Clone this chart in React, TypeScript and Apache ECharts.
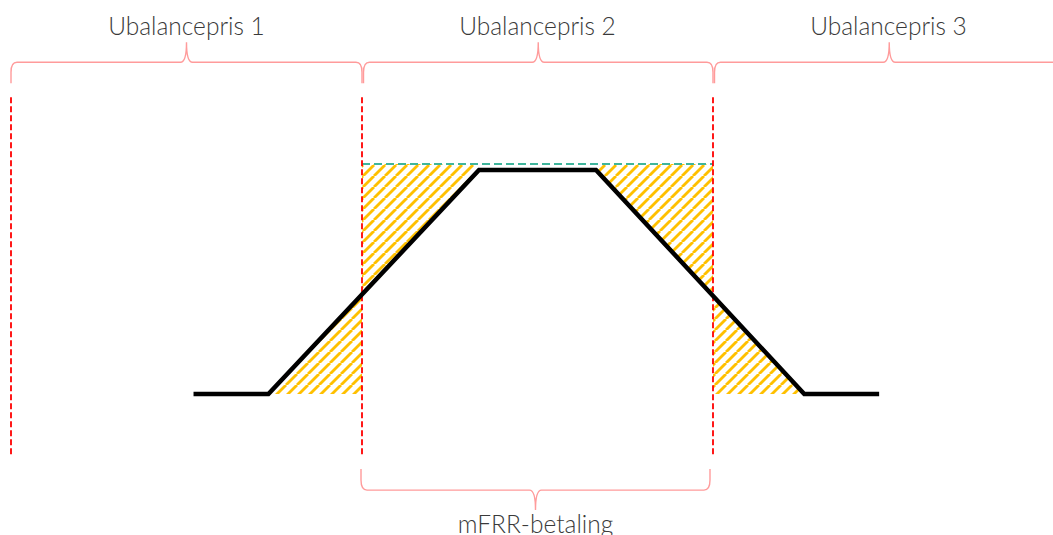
import { useEffect, useRef } from 'react';
import * as echarts from 'echarts';

// Activated power profile (time in minutes, power in % of ordered volume)
const timeMin = [7.8, 11, 20, 25, 33.9, 37.1];
const powerPct = [0, 0, 100, 100, 0, 0];

// Imbalance-price periods (quarter hours)
const priceStart = [0, 15, 30];
const priceEnd = [15, 30, 45];
const priceLabels = ['Ubalancepris 1', 'Ubalancepris 2', 'Ubalancepris 3'];
const priceBoundaries = [0, 15, 30];

// mFRR payment window and ordered level
const paymentStart = 15;
const paymentEnd = 30;
const paymentLabel = 'mFRR-betaling';
const orderedLevel = 102.7;

// Hatched deviation regions
const hatchFrom = [11, 15, 25, 30];
const hatchTo = [15, 20, 30, 33.9];
const hatchRef = [0, 102.7, 102.7, 0];

function lineAt(t: number): number {
  for (let i = 0; i < timeMin.length - 1; i++) {
    if (t >= timeMin[i] && t <= timeMin[i + 1]) {
      const f = (t - timeMin[i]) / (timeMin[i + 1] - timeMin[i]);
      return powerPct[i] + f * (powerPct[i + 1] - powerPct[i]);
    }
  }
  return 0;
}

function bracePath(x1: number, x2: number, y: number, dir: number): string {
  const end = 21, peak = 20, rx = 6, ry = 10, cusp = 6;
  const xm = (x1 + x2) / 2;
  return [
    `M ${x1} ${y - dir * end}`,
    `L ${x1} ${y - dir * ry}`,
    `Q ${x1} ${y} ${x1 + rx} ${y}`,
    `L ${xm - cusp} ${y}`,
    `Q ${xm} ${y} ${xm} ${y + dir * peak}`,
    `Q ${xm} ${y} ${xm + cusp} ${y}`,
    `L ${x2 - rx} ${y}`,
    `Q ${x2} ${y} ${x2} ${y - dir * ry}`,
    `L ${x2} ${y - dir * end}`,
  ].join(' ');
}

const BRACE_COLOR = '#ff9b9b';
const TEXT_COLOR = '#3a3a3a';
const FONT = 'Lato';

export default function App() {
  const ref = useRef<HTMLDivElement>(null);

  useEffect(() => {
    document.body.style.margin = '0';
    if (!ref.current) return;
    const chart = echarts.init(ref.current, undefined, { renderer: 'svg' });

    const P = 11;
    const cv = document.createElement('canvas');
    cv.width = P;
    cv.height = P;
    const ctx = cv.getContext('2d')!;
    ctx.strokeStyle = '#ffc000';
    ctx.lineWidth = 2.8;
    for (const k of [-1, 0, 1]) {
      ctx.beginPath();
      ctx.moveTo(k * P, P);
      ctx.lineTo(k * P + P, 0);
      ctx.stroke();
    }
    const pattern = { image: cv, repeat: 'repeat' };

    const braceTopLevel = 148.1;
    const braceBottomLevel = -42.9;

    const textStyle = {
      align: 'center',
      verticalAlign: 'middle',
      fill: TEXT_COLOR,
      fontSize: 24.5,
      fontFamily: FONT,
      fontWeight: 300,
    };

    chart.setOption({
      animation: false,
      grid: { left: 11, top: 170, right: 0, height: 224 },
      xAxis: { type: 'value', min: 0, max: 44.53, show: false },
      yAxis: { type: 'value', min: 0, max: 100, show: false },
      series: [
        {
          type: 'custom',
          z: 1,
          data: hatchFrom.map((f, i) => [f, hatchTo[i], hatchRef[i]]),
          renderItem: (params: any, api: any) => {
            const a = api.value(0), b = api.value(1), r = api.value(2);
            const pts: number[][] = [[a, r], [a, lineAt(a)]];
            timeMin.forEach((t, j) => {
              if (t > a && t < b) pts.push([t, powerPct[j]]);
            });
            pts.push([b, lineAt(b)], [b, r]);
            return {
              type: 'polygon',
              shape: { points: pts.map((p) => api.coord(p)) },
              style: { fill: pattern, stroke: 'none' },
            };
          },
        },
        {
          type: 'line',
          z: 2,
          data: [[paymentStart, orderedLevel], [paymentEnd, orderedLevel]],
          symbol: 'none',
          clip: false,
          lineStyle: { color: '#3fb59c', width: 2, type: [8, 4] },
        },
        {
          type: 'custom',
          z: 3,
          data: priceBoundaries.map((t) => [t]),
          renderItem: (params: any, api: any) => {
            const t = api.value(0);
            const p1 = api.coord([t, 132.5]);
            const p2 = api.coord([t, -27]);
            return {
              type: 'line',
              shape: { x1: p1[0], y1: p1[1], x2: p2[0], y2: p2[1] },
              style: { stroke: '#ff0000', lineWidth: 1.8, lineDash: [6, 3] },
            };
          },
        },
        {
          type: 'custom',
          z: 4,
          data: priceStart.map((s, i) => [s, priceEnd[i], i]),
          renderItem: (params: any, api: any) => {
            const s = api.value(0), e = api.value(1), i = api.value(2);
            const p1 = api.coord([s, braceTopLevel]);
            const p2 = api.coord([e, braceTopLevel]);
            const off = i === 0 ? 0 : 1.5;
            const xm = (p1[0] + p2[0]) / 2;
            return {
              type: 'group',
              children: [
                {
                  type: 'path',
                  shape: { pathData: bracePath(p1[0] + off, p2[0], p1[1], -1) },
                  style: { fill: 'none', stroke: BRACE_COLOR, lineWidth: 1.4 },
                },
                {
                  type: 'text',
                  style: { ...textStyle, text: priceLabels[i], x: xm, y: p1[1] - 37 },
                },
              ],
            };
          },
        },
        {
          type: 'custom',
          z: 4,
          data: [[paymentStart, paymentEnd]],
          renderItem: (params: any, api: any) => {
            const p1 = api.coord([api.value(0), braceBottomLevel]);
            const p2 = api.coord([api.value(1), braceBottomLevel]);
            const xm = (p1[0] + p2[0]) / 2;
            return {
              type: 'group',
              children: [
                {
                  type: 'path',
                  shape: { pathData: bracePath(p1[0] - 1, p2[0] - 3, p1[1], 1) },
                  style: { fill: 'none', stroke: BRACE_COLOR, lineWidth: 1.4 },
                },
                {
                  type: 'text',
                  style: { ...textStyle, text: paymentLabel, x: xm - 2, y: p1[1] + 33 },
                },
              ],
            };
          },
        },
        {
          type: 'line',
          z: 5,
          data: timeMin.map((t, i) => [t, powerPct[i]]),
          symbol: 'none',
          clip: false,
          lineStyle: { color: '#000000', width: 4.5, cap: 'butt', join: 'miter' },
        },
      ],
    });

    return () => chart.dispose();
  }, []);

  return <div ref={ref} style={{ width: 1053, height: 535 }} />;
}
